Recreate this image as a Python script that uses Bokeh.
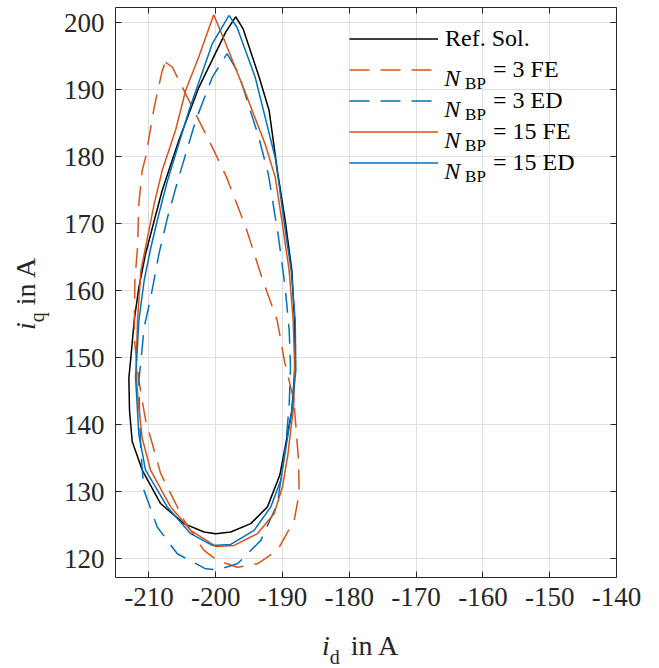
import math
from bokeh.plotting import figure
from bokeh.layouts import row, column
from bokeh.models import (Legend, LegendItem, Label, LinearAxis, FixedTicker,
                          CustomJSTickFormatter, Range1d, Div)
from bokeh.embed import file_html
from bokeh.resources import INLINE

# ---------------- data ----------------
x_ticks = [-210, -200, -190, -180, -170, -160, -150, -140]
y_ticks = [120, 130, 140, 150, 160, 170, 180, 190, 200]

ref_id = [-197.0, -195.9, -193.5, -192.0, -190.7, -189.6, -188.6, -188.2, -188.1, -188.6,
          -189.6, -190.4, -192.25, -194.75, -197.75, -200.0, -201.75, -204.75, -208.25, -211.0,
          -212.5, -212.9, -213.0, -212.7, -212.2, -211.5, -210.5, -209.2, -208.0,
          -205.5, -202.5, -200.5, -198.5, -197.0]
ref_iq = [200.9, 199.1, 191.9, 186.9, 177.5, 170.5, 163.0, 155.6, 149.0, 142.1,
          136.7, 132.5, 127.75, 125.25, 124.0, 123.75, 124.0, 125.25, 128.25, 133.25,
          137.5, 142.1, 147.0, 150.0, 155.6, 160.5, 165.5, 170.5, 175.0,
          182.5, 190.4, 194.5, 198.6, 200.9]

fe3_id = [-207.5, -206.5, -204.75, -202.5, -200.5, -198.4, -195.5, -193.1, -190.8, -189.7,
          -188.3, -187.6, -187.5, -188.25, -190.75, -193.75, -196.75, -199.75, -201.75, -204.75,
          -208.25, -209.5, -210.5, -211.5, -212.2, -212.1, -211.7, -211.5, -211.0,
          -210.5, -209.2, -208.0, -207.5]
fe3_iq = [194.1, 193.4, 189.9, 185.4, 181.4, 177.0, 169.5, 162.0, 155.6, 149.5,
          143.6, 134.7, 129.75, 125.75, 121.25, 119.25, 118.75, 119.75, 121.25, 125.75,
          132.75, 137.2, 140.7, 146.6, 153.0, 161.6, 166.5, 173.0, 178.0,
          179.9, 187.4, 192.9, 194.1]

ed3_id = [-198.3, -196.55, -193.55, -192.1, -190.6, -189.6, -189.0, -188.8, -189.0, -189.5,
          -190.75, -193.25, -196.75, -199.75, -201.5, -205.75, -208.75, -210.75, -211.2,
          -211.4, -211.5, -211.2, -210.7, -209.7, -208.5, -207.2, -205.6, -203.0, -200.5,
          -198.3]
ed3_iq = [195.4, 192.4, 182.9, 177.3, 168.0, 160.5, 154.1, 148.6, 143.0, 137.0,
          128.25, 122.75, 119.25, 118.35, 118.5, 120.75, 124.75, 130.25, 136.0,
          141.6, 146.6, 149.5, 154.6, 159.1, 165.5, 171.0, 176.7, 185.4, 191.9,
          195.4]

fe15_id = [-200.3, -198.5, -195.5, -192.6, -191.1, -190.1, -189.0, -188.4, -188.2, -188.3,
           -189.2, -190.0, -191.25, -193.75, -197.25, -200.0, -203.75, -206.75, -209.75,
           -211.0, -211.5, -211.8, -211.9, -211.7, -211.2, -210.2, -209.2, -208.0, -206.0,
           -204.5, -202.5, -200.3]
fe15_iq = [201.2, 196.9, 189.4, 181.9, 177.0, 170.5, 163.0, 155.6, 149.2, 143.1,
           135.5, 130.75, 126.75, 123.75, 122.0, 121.85, 124.25, 127.75, 133.25,
           138.0, 142.5, 146.0, 149.6, 155.6, 163.0, 168.0, 173.0, 178.0, 184.0,
           189.9, 195.0, 201.2]

ed15_id = [-198.0, -196.8, -194.1, -192.5, -191.1, -190.6, -189.8, -188.7, -188.1, -188.0,
           -188.6, -189.5, -190.25, -191.75, -194.25, -197.75, -200.5, -203.75, -207.25,
           -210.5, -211.5, -212.0, -211.7, -211.5, -210.7, -209.7, -208.5, -207.2, -204.0,
           -200.5, -198.0]
ed15_iq = [201.1, 199.3, 191.9, 185.5, 179.9, 176.5, 170.5, 163.0, 155.6, 148.1,
           142.1, 136.5, 131.75, 127.75, 124.25, 122.15, 122.0, 123.75, 127.75,
           133.25, 138.5, 147.1, 152.0, 155.6, 161.6, 166.5, 171.5, 176.5, 186.9,
           196.9, 201.1]

legend_ref = "Ref. Sol."
legend_rest = ["= 3 FE", "= 3 ED", "= 15 FE", "= 15 ED"]

# ---------------- style ----------------
FONT = "Liberation Serif"
ORANGE = "#D95319"
BLUE = "#0072BD"
AX = "#262626"
GRID = "#DFDFDF"
DASH = "20 11"

XMIN, XMAX = -215, -140
YMIN, YMAX = 117.21, 202.28
YLAB_W = 60                  # width of the y-label strip (page x 0..60)
XLAB_H = 36                  # height of the x-label strip
FIG_W, FIG_H = 595, 632
FRAME_L, FRAME_T = 113, 7    # frame position on the page
FRAME_W, FRAME_H = 503, 570
FRAME_B = FRAME_T + FRAME_H
BORDER_L = FRAME_L - YLAB_W

p = figure(width=FIG_W, height=FIG_H, x_range=Range1d(XMIN, XMAX), y_range=Range1d(YMIN, YMAX),
           output_backend="svg", toolbar_location=None,
           min_border_left=BORDER_L, min_border_right=FIG_W - BORDER_L - FRAME_W,
           min_border_top=FRAME_T, min_border_bottom=FIG_H - FRAME_B)
p.outline_line_color = None
p.background_fill_color = "white"
p.border_fill_color = "white"

p.xaxis.ticker = FixedTicker(ticks=x_ticks)
p.yaxis.ticker = FixedTicker(ticks=y_ticks)
p.xaxis.formatter = CustomJSTickFormatter(code="return String(tick)")
p.yaxis.formatter = CustomJSTickFormatter(code="return String(tick)")
p.xgrid.ticker = FixedTicker(ticks=x_ticks)
p.ygrid.ticker = FixedTicker(ticks=y_ticks)
p.grid.grid_line_color = GRID
p.grid.grid_line_width = 1

for ax in (p.xaxis[0], p.yaxis[0]):
    ax.major_label_text_font = FONT
    ax.major_label_text_font_size = "27px"
    ax.major_label_text_color = AX
    ax.major_tick_in = 6
    ax.major_tick_out = 0
    ax.minor_tick_line_color = None
    ax.axis_line_color = AX
    ax.major_tick_line_color = AX
    ax.axis_line_width = 1
p.xaxis.major_label_standoff = 10
p.yaxis.major_label_standoff = 11

for loc, ticks in (("above", x_ticks), ("right", y_ticks)):
    ax = LinearAxis(ticker=FixedTicker(ticks=ticks),
                    formatter=CustomJSTickFormatter(code="return ''"),
                    major_label_text_font_size="0px", major_label_standoff=0,
                    major_tick_in=6, major_tick_out=0, minor_tick_line_color=None,
                    axis_line_color=AX, major_tick_line_color=AX, axis_line_width=1)
    p.add_layout(ax, loc)

r_ref = p.line(ref_id, ref_iq, line_color="black", line_width=1.5)
r_fe3 = p.line(fe3_id, fe3_iq, line_color=ORANGE, line_width=1.5, line_dash=DASH)
r_ed3 = p.line(ed3_id, ed3_iq, line_color=BLUE, line_width=1.5, line_dash=DASH)
r_fe15 = p.line(fe15_id, fe15_iq, line_color=ORANGE, line_width=1.5)
r_ed15 = p.line(ed15_id, ed15_iq, line_color=BLUE, line_width=1.5)

PXU = FRAME_W / (XMAX - XMIN)
PYU = FRAME_H / (YMAX - YMIN)


def px2x(px):
    return XMIN + (px - FRAME_L) / PXU


def py2y(py):
    return YMAX - (py - FRAME_T) / PYU


ROW = 31
common = dict(glyph_width=89, glyph_height=ROW, label_height=ROW, padding=0, margin=0,
              spacing=0, background_fill_alpha=0, border_line_color=None,
              label_text_font=FONT, label_text_font_size="24px", label_text_color="black")
legA_top = 23
legB_top = legA_top + ROW
legA = Legend(items=[LegendItem(label=legend_ref, renderers=[r_ref])],
              location=(347 - FRAME_L, FRAME_B - (legA_top + ROW)),
              label_standoff=7, **common)
legB = Legend(items=[LegendItem(label=t, renderers=[r]) for t, r in
                     zip(legend_rest, [r_fe3, r_ed3, r_fe15, r_ed15])],
              location=(347 - FRAME_L, FRAME_B - (legB_top + 4 * ROW)),
              label_standoff=55, **common)
p.add_layout(legA)
p.add_layout(legB)

for k in range(4):
    c = legB_top + ROW / 2 + k * ROW
    p.add_layout(Label(x=px2x(443), y=py2y(c + 7.6), text="N", text_font=FONT,
                       text_font_style="italic", text_font_size="24px",
                       text_align="left", text_baseline="alphabetic", text_color="black"))
    p.add_layout(Label(x=px2x(464), y=py2y(c + 13.5), text="BP", text_font=FONT,
                       text_font_size="17px", text_align="left",
                       text_baseline="alphabetic", text_color="black"))

# ---------------- axis labels as HTML (italic variable + subscript) ----------------
TXT = ("white-space:nowrap;font-family:'Liberation Serif';font-size:28px;"
       "line-height:28px;color:#262626;")
SUB = "font-size:20px;position:relative;top:9px;"

ylab_html = (f'<div style="position:relative;width:{YLAB_W}px;height:{FIG_H}px;">'
             f'<div style="position:absolute;left:12px;top:330px;transform-origin:0 0;'
             f'transform:rotate(-90deg);{TXT}">'
             f'<i>i</i><span style="{SUB}">q</span> in A</div></div>')
xlab_html = (f'<div style="position:relative;width:{YLAB_W + FIG_W}px;height:{XLAB_H}px;">'
             f'<div style="position:absolute;left:322px;top:0px;{TXT}">'
             f'<i>i</i><span style="{SUB}">d</span><span style="margin-left:4px;"> in A</span>'
             f'</div></div>')

ydiv = Div(text=ylab_html, width=YLAB_W, height=FIG_H, margin=0)
xdiv = Div(text=xlab_html, width=YLAB_W + FIG_W, height=XLAB_H, margin=0)

layout = column(row(ydiv, p, spacing=0), xdiv, spacing=0)

open("out.html", "w").write(file_html(layout, INLINE))
